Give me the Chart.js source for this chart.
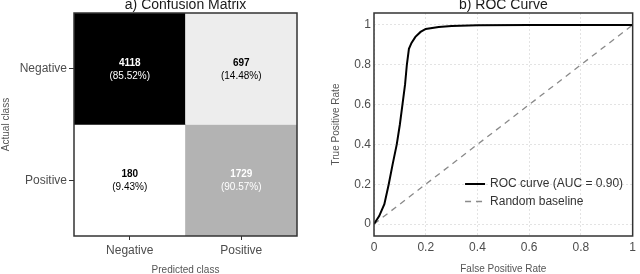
<!DOCTYPE html>
<html>
<head>
<meta charset="utf-8">
<script src="https://cdn.jsdelivr.net/npm/chart.js@4.4.1/dist/chart.umd.min.js"></script>
<style>
  html, body { margin: 0; padding: 0; background: #fff; }
  .panel { position: absolute; top: 0; width: 320px; height: 274px; }
  #left { left: 0; }
  #right { left: 320px; }
</style>
</head>
<body>
<div class="panel" id="left"><canvas id="cmChart"></canvas></div>
<div class="panel" id="right"><canvas id="rocChart"></canvas></div>
<script>
// Confusion matrix (rows = actual class, columns = predicted class)
const classes = ['Negative', 'Positive'];
const negativeRow = [4118, 697];
const positiveRow = [180, 1729];
const negativePct = [85.52, 14.48];
const positivePct = [9.43, 90.57];

// ROC curve points
const fpr = [0, 0.02, 0.04, 0.057, 0.072, 0.088, 0.1, 0.11, 0.12, 0.127, 0.135, 0.145, 0.16, 0.18, 0.2, 0.25, 0.3, 0.4, 0.6, 1];
const tpr = [0, 0.04, 0.1, 0.2, 0.3, 0.4, 0.5, 0.6, 0.7, 0.8, 0.88, 0.91, 0.94, 0.965, 0.98, 0.99, 0.995, 0.998, 1, 1];
const baselineX = [0, 1];
const baselineY = [0, 1];
const rocTicks = [0, 0.2, 0.4, 0.6, 0.8, 1];

Chart.defaults.font.family = "'Liberation Sans', Arial, sans-serif";
Chart.defaults.animation = false;

const FRAME = '#333333';
const TICK_COLOR = '#4d4d4d';
const AXIS_TITLE = '#555555';

// grey level from count, darker = larger
const allCounts = negativeRow.concat(positiveRow);
const cMin = Math.min(...allCounts), cMax = Math.max(...allCounts);
function cellGrey(v) {
  const t = (v - cMin) / (cMax - cMin);
  return Math.round(255 * (1 - Math.pow(t, 1.3)));
}
function cellColor(v) {
  const g = cellGrey(v);
  return `rgb(${g},${g},${g})`;
}

// Title above the plot area + full frame around it
const panelDecor = {
  id: 'panelDecor',
  afterDraw(chart, args, opts) {
    const { ctx, chartArea: a } = chart;
    ctx.save();
    ctx.strokeStyle = FRAME;
    ctx.lineWidth = 1.5;
    ctx.strokeRect(a.left, a.top, a.right - a.left, a.bottom - a.top);
    ctx.fillStyle = '#1a1a1a';
    ctx.font = "14px 'Liberation Sans', Arial, sans-serif";
    ctx.textAlign = 'center';
    ctx.textBaseline = 'alphabetic';
    ctx.fillText(opts.text, (a.left + a.right) / 2, a.top - 4);
    ctx.restore();
  }
};

// Count + percentage in each cell
const cellLabels = {
  id: 'cellLabels',
  afterDatasetsDraw(chart) {
    const ctx = chart.ctx;
    ctx.save();
    ctx.textAlign = 'center';
    ctx.textBaseline = 'middle';
    chart.data.datasets.forEach((ds, di) => {
      chart.getDatasetMeta(di).data.forEach((el, i) => {
        const cy = (el.y + el.base) / 2;
        const dark = cellGrey(ds.counts[i]) < 200;
        ctx.fillStyle = dark ? '#ffffff' : '#000000';
        ctx.font = "bold 10px 'Liberation Sans', Arial, sans-serif";
        ctx.fillText(String(ds.counts[i]), el.x, cy - 6);
        ctx.font = "10px 'Liberation Sans', Arial, sans-serif";
        ctx.fillText('(' + ds.pcts[i].toFixed(2) + '%)', el.x, cy + 7);
      });
    });
    ctx.restore();
  }
};

new Chart(document.getElementById('cmChart'), {
  type: 'bar',
  data: {
    labels: classes,
    datasets: [
      {
        label: 'Negative',
        data: negativeRow.map(() => [1, 2]),
        counts: negativeRow,
        pcts: negativePct,
        backgroundColor: negativeRow.map(cellColor)
      },
      {
        label: 'Positive',
        data: positiveRow.map(() => [0, 1]),
        counts: positiveRow,
        pcts: positivePct,
        backgroundColor: positiveRow.map(cellColor)
      }
    ]
  },
  options: {
    responsive: true,
    maintainAspectRatio: false,
    layout: { padding: { top: 13, right: 23, left: 0, bottom: 0 } },
    barPercentage: 1,
    categoryPercentage: 1,
    borderWidth: 0,
    plugins: {
      legend: { display: false },
      tooltip: { enabled: false },
      panelDecor: { text: 'a) Confusion Matrix' }
    },
    scales: {
      x: {
        stacked: true,
        grid: { offset: false, drawOnChartArea: false, tickLength: 4, color: FRAME },
        border: { display: false },
        ticks: { color: TICK_COLOR, font: { size: 12 }, padding: 3 },
        title: { display: true, text: 'Predicted class', color: AXIS_TITLE, font: { size: 10 }, padding: { top: 0, bottom: -2 } },
        afterFit(scale) { scale.height = 38; }
      },
      y: {
        min: 0,
        max: 2,
        grid: { drawOnChartArea: false, tickLength: 5, color: FRAME },
        border: { display: false },
        afterBuildTicks(scale) { scale.ticks = [{ value: 0.5 }, { value: 1.5 }]; },
        ticks: {
          color: TICK_COLOR,
          font: { size: 12 },
          padding: 2,
          callback: v => (v > 1 ? classes[0] : classes[1])
        },
        title: { display: true, text: 'Actual class', color: AXIS_TITLE, font: { size: 10 }, padding: 0 },
        afterFit(scale) { scale.width = 74; }
      }
    }
  },
  plugins: [panelDecor, cellLabels]
});

// Legend drawn inside the plot area, lower right
const innerLegend = {
  id: 'innerLegend',
  afterDatasetsDraw(chart) {
    const { ctx, chartArea: a } = chart;
    ctx.save();
    ctx.font = "12px 'Liberation Sans', Arial, sans-serif";
    ctx.textBaseline = 'middle';
    ctx.textAlign = 'left';
    const x0 = a.left + (a.right - a.left) * 0.352;
    chart.data.datasets.forEach((ds, i) => {
      const y = a.bottom - 52 + i * 17.5;
      ctx.strokeStyle = ds.borderColor;
      ctx.lineWidth = ds.borderWidth;
      ctx.setLineDash(ds.borderDash || []);
      ctx.beginPath();
      ctx.moveTo(x0, y);
      ctx.lineTo(x0 + 20, y);
      ctx.stroke();
      ctx.setLineDash([]);
      ctx.fillStyle = '#333333';
      ctx.fillText(ds.label, x0 + 25, y);
    });
    ctx.restore();
  }
};

const fmt = v => String(Math.round(v * 10) / 10);

new Chart(document.getElementById('rocChart'), {
  type: 'line',
  data: {
    datasets: [
      {
        label: 'ROC curve (AUC = 0.90)',
        data: fpr.map((x, i) => ({ x: x, y: tpr[i] })),
        borderColor: '#000000',
        borderWidth: 2,
        pointRadius: 0,
        tension: 0
      },
      {
        label: 'Random baseline',
        data: baselineX.map((x, i) => ({ x: x, y: baselineY[i] })),
        borderColor: '#8a8a8a',
        borderWidth: 1.3,
        borderDash: [6, 5],
        pointRadius: 0
      }
    ]
  },
  options: {
    responsive: true,
    maintainAspectRatio: false,
    layout: { padding: { top: 13, right: 4, left: 10, bottom: 0 } },
    plugins: {
      legend: { display: false },
      tooltip: { enabled: false },
      panelDecor: { text: 'b) ROC Curve' }
    },
    scales: {
      x: {
        type: 'linear',
        min: 0,
        max: 1,
        afterBuildTicks(scale) { scale.ticks = rocTicks.map(v => ({ value: v })); },
        grid: { color: '#e3e3e3', drawTicks: false, lineWidth: 1 },
        border: { display: false, dash: [2, 2] },
        ticks: { color: TICK_COLOR, font: { size: 12 }, padding: 4, callback: fmt },
        title: { display: true, text: 'False Positive Rate', color: AXIS_TITLE, font: { size: 10 }, padding: { top: 0, bottom: -1 } },
        afterFit(scale) { scale.height = 38; }
      },
      y: {
        type: 'linear',
        min: -0.06,
        max: 1.06,
        afterBuildTicks(scale) { scale.ticks = rocTicks.map(v => ({ value: v })); },
        grid: { color: '#e3e3e3', drawTicks: false, lineWidth: 1 },
        border: { display: false, dash: [2, 2] },
        ticks: { color: TICK_COLOR, font: { size: 12 }, padding: 3, callback: fmt },
        title: { display: true, text: 'True Positive Rate', color: AXIS_TITLE, font: { size: 10 }, padding: 0 },
        afterFit(scale) { scale.width = 44; }
      }
    }
  },
  plugins: [panelDecor, innerLegend]
});
</script>
</body>
</html>
